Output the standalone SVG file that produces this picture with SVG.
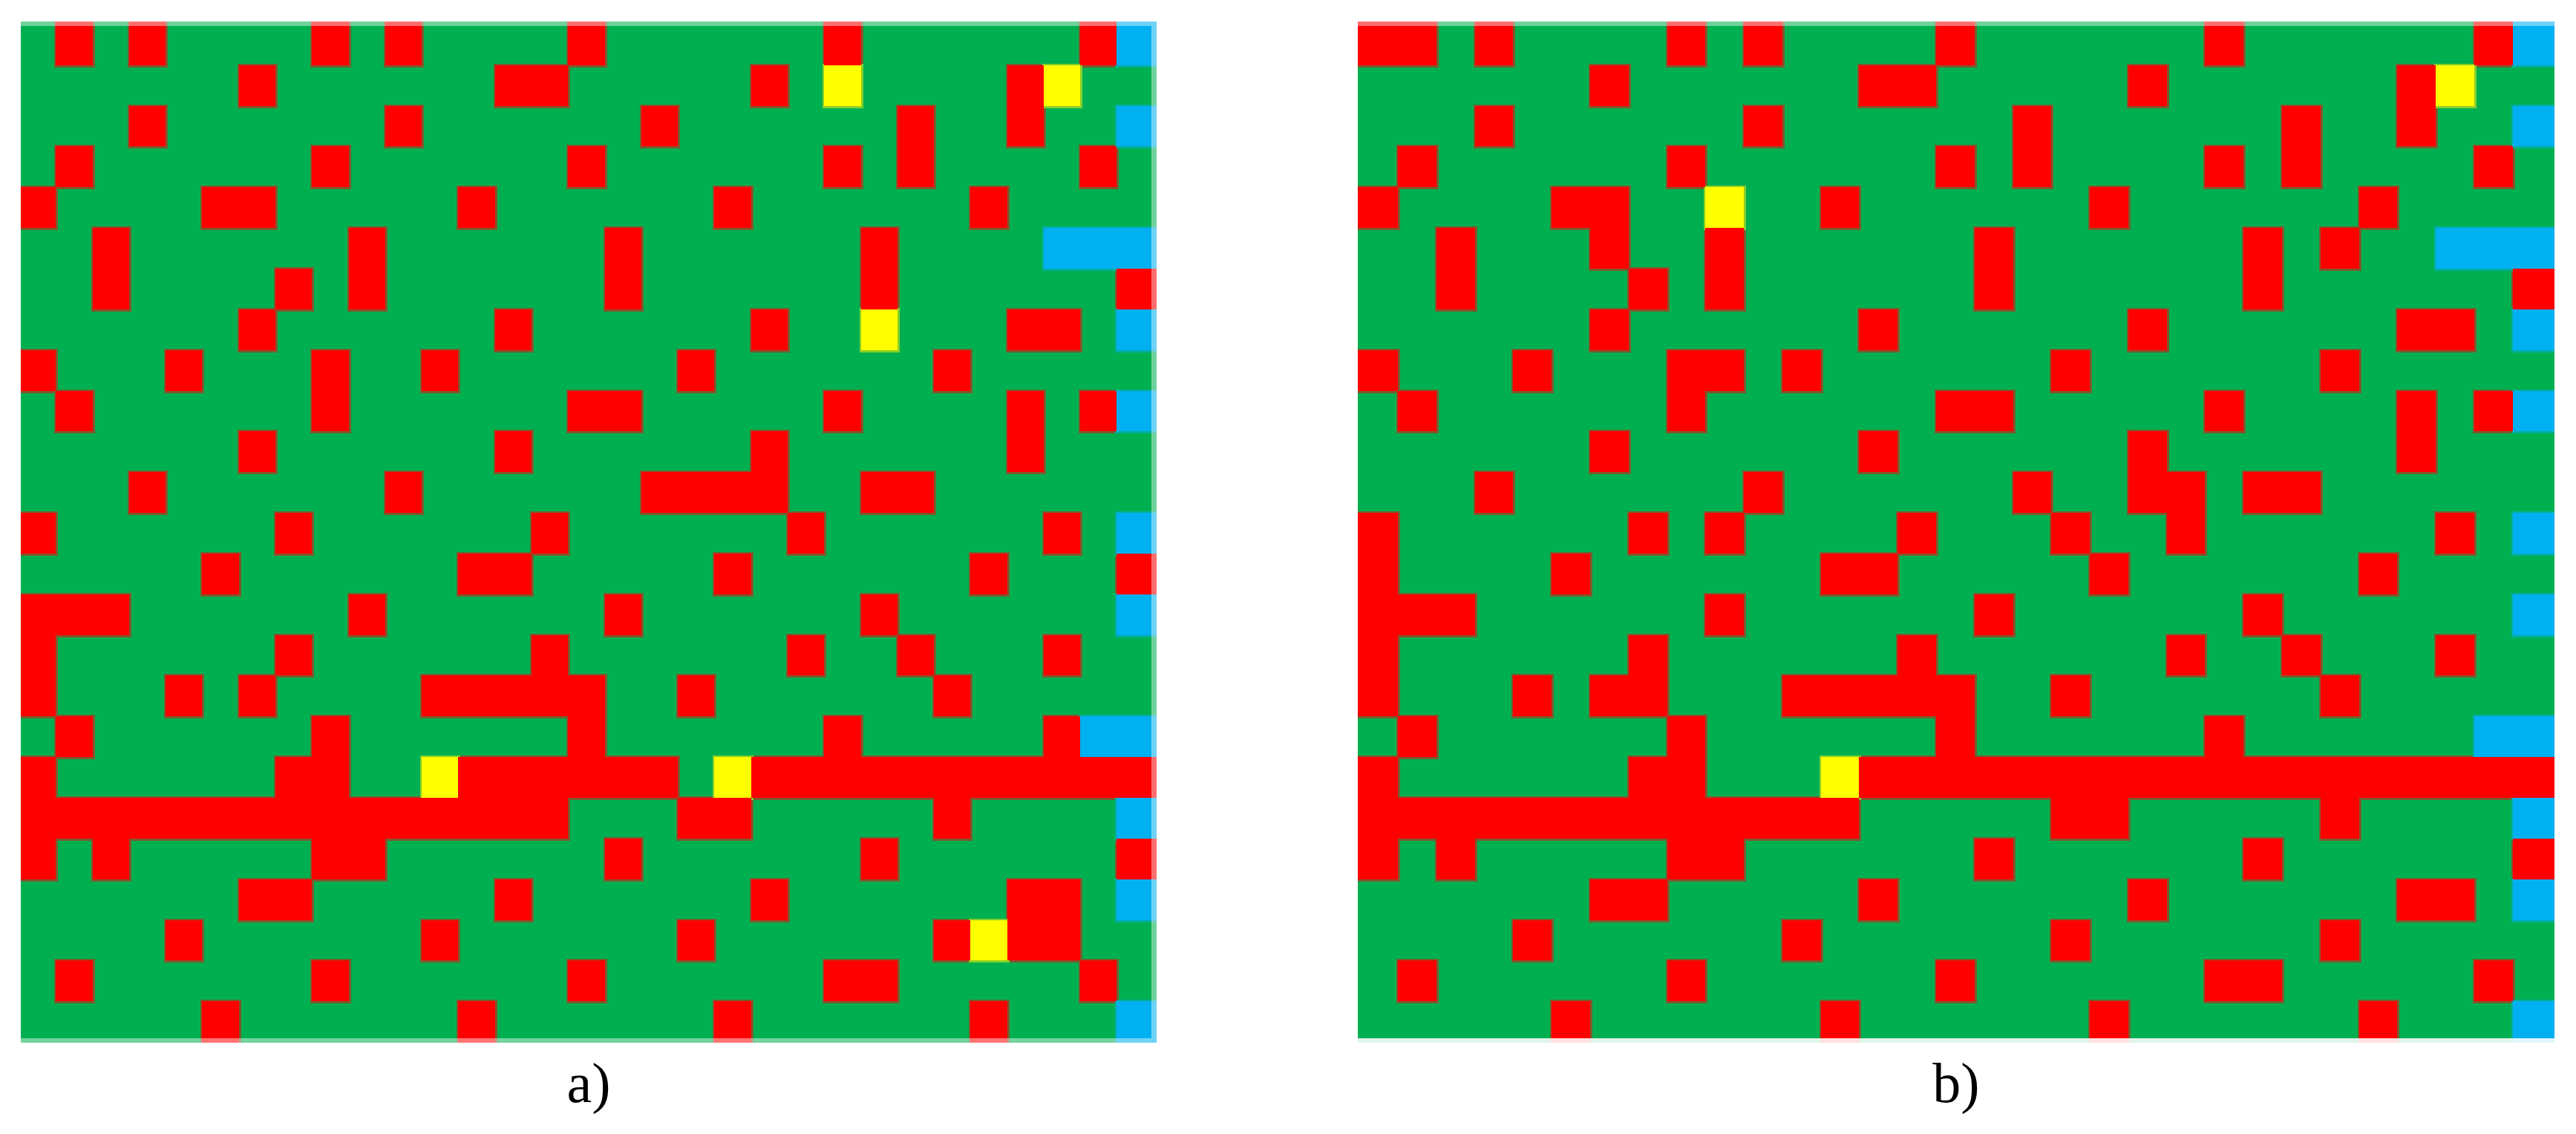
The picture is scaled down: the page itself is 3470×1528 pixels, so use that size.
<svg xmlns="http://www.w3.org/2000/svg" xmlns:xlink="http://www.w3.org/1999/xlink" width="3470" height="1528" viewBox="0 0 3470 1528">
<style>
.g{fill:#00b050}
.r{fill:#ff0000}
.y{fill:#ffff00}
.b{fill:#00b0f0}
.er{fill:none;stroke:#7b5a2e;stroke-width:5}
.ey{fill:none;stroke:#86cf2a;stroke-width:5}
.eb{fill:none;stroke:#00ae9e;stroke-width:5}
.hl{fill:#ffffff}
.lbl{font-family:"Liberation Serif","Times New Roman",serif;font-size:76px;fill:#000000;text-anchor:middle}
</style>
<defs>
<clipPath id="ca"><rect x="28" y="29" width="1530" height="1376"/></clipPath>
<clipPath id="cb"><rect x="1829" y="29" width="1612" height="1376"/></clipPath>
<g id="aR">
<rect x="75" y="29" width="50" height="59"/><rect x="174" y="29" width="49" height="59"/><rect x="420" y="29" width="50" height="59"/><rect x="519" y="29" width="49" height="59"/><rect x="765" y="29" width="50" height="59"/><rect x="1110" y="29" width="50" height="59"/><rect x="1455" y="29" width="49" height="59"/>
<rect x="322" y="88" width="49" height="55"/><rect x="667" y="88" width="98" height="55"/><rect x="1012" y="88" width="49" height="55"/><rect x="1357" y="88" width="49" height="55"/>
<rect x="174" y="143" width="49" height="54"/><rect x="519" y="143" width="49" height="54"/><rect x="864" y="143" width="49" height="54"/><rect x="1209" y="143" width="49" height="54"/><rect x="1357" y="143" width="49" height="54"/>
<rect x="75" y="197" width="50" height="55"/><rect x="420" y="197" width="50" height="55"/><rect x="765" y="197" width="50" height="55"/><rect x="1110" y="197" width="50" height="55"/><rect x="1209" y="197" width="49" height="55"/><rect x="1455" y="197" width="49" height="55"/>
<rect x="28" y="252" width="47" height="55"/><rect x="272" y="252" width="99" height="55"/><rect x="617" y="252" width="50" height="55"/><rect x="962" y="252" width="50" height="55"/><rect x="1307" y="252" width="50" height="55"/>
<rect x="125" y="307" width="49" height="55"/><rect x="470" y="307" width="49" height="55"/><rect x="815" y="307" width="49" height="55"/><rect x="1160" y="307" width="49" height="55"/>
<rect x="125" y="362" width="49" height="55"/><rect x="371" y="362" width="49" height="55"/><rect x="470" y="362" width="49" height="55"/><rect x="815" y="362" width="49" height="55"/><rect x="1160" y="362" width="49" height="55"/><rect x="1504" y="362" width="54" height="55"/>
<rect x="322" y="417" width="49" height="55"/><rect x="667" y="417" width="49" height="55"/><rect x="1012" y="417" width="49" height="55"/><rect x="1357" y="417" width="98" height="55"/>
<rect x="28" y="472" width="47" height="55"/><rect x="223" y="472" width="49" height="55"/><rect x="420" y="472" width="50" height="55"/><rect x="568" y="472" width="49" height="55"/><rect x="913" y="472" width="49" height="55"/><rect x="1258" y="472" width="49" height="55"/>
<rect x="75" y="527" width="50" height="54"/><rect x="420" y="527" width="50" height="54"/><rect x="765" y="527" width="99" height="54"/><rect x="1110" y="527" width="50" height="54"/><rect x="1357" y="527" width="49" height="54"/><rect x="1455" y="527" width="49" height="54"/>
<rect x="322" y="581" width="49" height="55"/><rect x="667" y="581" width="49" height="55"/><rect x="1012" y="581" width="49" height="55"/><rect x="1357" y="581" width="49" height="55"/>
<rect x="174" y="636" width="49" height="55"/><rect x="519" y="636" width="49" height="55"/><rect x="864" y="636" width="197" height="55"/><rect x="1160" y="636" width="98" height="55"/>
<rect x="28" y="691" width="47" height="55"/><rect x="371" y="691" width="49" height="55"/><rect x="716" y="691" width="49" height="55"/><rect x="1061" y="691" width="49" height="55"/><rect x="1406" y="691" width="49" height="55"/>
<rect x="272" y="746" width="50" height="55"/><rect x="617" y="746" width="99" height="55"/><rect x="962" y="746" width="50" height="55"/><rect x="1307" y="746" width="50" height="55"/><rect x="1504" y="746" width="54" height="55"/>
<rect x="28" y="801" width="146" height="55"/><rect x="470" y="801" width="49" height="55"/><rect x="815" y="801" width="49" height="55"/><rect x="1160" y="801" width="49" height="55"/>
<rect x="28" y="856" width="47" height="54"/><rect x="371" y="856" width="49" height="54"/><rect x="716" y="856" width="49" height="54"/><rect x="1061" y="856" width="49" height="54"/><rect x="1209" y="856" width="49" height="54"/><rect x="1406" y="856" width="49" height="54"/>
<rect x="28" y="910" width="47" height="55"/><rect x="223" y="910" width="49" height="55"/><rect x="322" y="910" width="49" height="55"/><rect x="568" y="910" width="247" height="55"/><rect x="913" y="910" width="49" height="55"/><rect x="1258" y="910" width="49" height="55"/>
<rect x="75" y="965" width="50" height="55"/><rect x="420" y="965" width="50" height="55"/><rect x="765" y="965" width="50" height="55"/><rect x="1110" y="965" width="50" height="55"/><rect x="1406" y="965" width="49" height="55"/>
<rect x="28" y="1020" width="47" height="55"/><rect x="371" y="1020" width="99" height="55"/><rect x="617" y="1020" width="296" height="55"/><rect x="1012" y="1020" width="546" height="55"/>
<rect x="28" y="1075" width="737" height="55"/><rect x="913" y="1075" width="99" height="55"/><rect x="1258" y="1075" width="49" height="55"/>
<rect x="28" y="1130" width="47" height="55"/><rect x="125" y="1130" width="49" height="55"/><rect x="420" y="1130" width="99" height="55"/><rect x="815" y="1130" width="49" height="55"/><rect x="1160" y="1130" width="49" height="55"/><rect x="1504" y="1130" width="54" height="55"/>
<rect x="322" y="1185" width="98" height="55"/><rect x="667" y="1185" width="49" height="55"/><rect x="1012" y="1185" width="49" height="55"/><rect x="1357" y="1185" width="98" height="55"/>
<rect x="223" y="1240" width="49" height="54"/><rect x="568" y="1240" width="49" height="54"/><rect x="913" y="1240" width="49" height="54"/><rect x="1258" y="1240" width="49" height="54"/><rect x="1357" y="1240" width="98" height="54"/>
<rect x="75" y="1294" width="50" height="55"/><rect x="420" y="1294" width="50" height="55"/><rect x="765" y="1294" width="50" height="55"/><rect x="1110" y="1294" width="99" height="55"/><rect x="1455" y="1294" width="49" height="55"/>
<rect x="272" y="1349" width="50" height="56"/><rect x="617" y="1349" width="50" height="56"/><rect x="962" y="1349" width="50" height="56"/><rect x="1307" y="1349" width="50" height="56"/>
</g>
<g id="aY">
<rect x="1110" y="88" width="50" height="55"/><rect x="1406" y="88" width="49" height="55"/><rect x="1160" y="417" width="49" height="55"/><rect x="568" y="1020" width="49" height="55"/><rect x="962" y="1020" width="50" height="55"/><rect x="1307" y="1240" width="50" height="54"/>
</g>
<g id="aB">
<rect x="1504" y="29" width="54" height="59"/><rect x="1504" y="143" width="54" height="54"/><rect x="1406" y="307" width="152" height="55"/><rect x="1504" y="417" width="54" height="55"/><rect x="1504" y="527" width="54" height="54"/><rect x="1504" y="691" width="54" height="55"/><rect x="1504" y="801" width="54" height="55"/><rect x="1455" y="965" width="103" height="55"/><rect x="1504" y="1075" width="54" height="55"/><rect x="1504" y="1185" width="54" height="55"/><rect x="1504" y="1349" width="54" height="56"/>
</g>
<g id="bR">
<rect x="1829" y="29" width="106" height="59"/><rect x="1987" y="29" width="51" height="59"/><rect x="2246" y="29" width="51" height="59"/><rect x="2349" y="29" width="52" height="59"/><rect x="2608" y="29" width="52" height="59"/><rect x="2970" y="29" width="52" height="59"/><rect x="3333" y="29" width="52" height="59"/>
<rect x="2142" y="88" width="52" height="55"/><rect x="2504" y="88" width="104" height="55"/><rect x="2867" y="88" width="52" height="55"/><rect x="3229" y="88" width="52" height="55"/>
<rect x="1987" y="143" width="51" height="54"/><rect x="2349" y="143" width="52" height="54"/><rect x="2712" y="143" width="51" height="54"/><rect x="3074" y="143" width="52" height="54"/><rect x="3229" y="143" width="52" height="54"/>
<rect x="1883" y="197" width="52" height="55"/><rect x="2246" y="197" width="51" height="55"/><rect x="2608" y="197" width="52" height="55"/><rect x="2712" y="197" width="51" height="55"/><rect x="2970" y="197" width="52" height="55"/><rect x="3074" y="197" width="52" height="55"/><rect x="3333" y="197" width="52" height="55"/>
<rect x="1829" y="252" width="54" height="55"/><rect x="2090" y="252" width="104" height="55"/><rect x="2453" y="252" width="51" height="55"/><rect x="2815" y="252" width="52" height="55"/><rect x="3178" y="252" width="51" height="55"/>
<rect x="1935" y="307" width="52" height="55"/><rect x="2142" y="307" width="52" height="55"/><rect x="2297" y="307" width="52" height="55"/><rect x="2660" y="307" width="52" height="55"/><rect x="3022" y="307" width="52" height="55"/><rect x="3126" y="307" width="52" height="55"/>
<rect x="1935" y="362" width="52" height="55"/><rect x="2194" y="362" width="52" height="55"/><rect x="2297" y="362" width="52" height="55"/><rect x="2660" y="362" width="52" height="55"/><rect x="3022" y="362" width="52" height="55"/><rect x="3385" y="362" width="56" height="55"/>
<rect x="2142" y="417" width="52" height="55"/><rect x="2504" y="417" width="52" height="55"/><rect x="2867" y="417" width="52" height="55"/><rect x="3229" y="417" width="104" height="55"/>
<rect x="1829" y="472" width="54" height="55"/><rect x="2038" y="472" width="52" height="55"/><rect x="2246" y="472" width="103" height="55"/><rect x="2401" y="472" width="52" height="55"/><rect x="2763" y="472" width="52" height="55"/><rect x="3126" y="472" width="52" height="55"/>
<rect x="1883" y="527" width="52" height="54"/><rect x="2246" y="527" width="51" height="54"/><rect x="2608" y="527" width="104" height="54"/><rect x="2970" y="527" width="52" height="54"/><rect x="3229" y="527" width="52" height="54"/><rect x="3333" y="527" width="52" height="54"/>
<rect x="2142" y="581" width="52" height="55"/><rect x="2504" y="581" width="52" height="55"/><rect x="2867" y="581" width="52" height="55"/><rect x="3229" y="581" width="52" height="55"/>
<rect x="1987" y="636" width="51" height="55"/><rect x="2349" y="636" width="52" height="55"/><rect x="2712" y="636" width="51" height="55"/><rect x="2867" y="636" width="103" height="55"/><rect x="3022" y="636" width="104" height="55"/>
<rect x="1829" y="691" width="54" height="55"/><rect x="2194" y="691" width="52" height="55"/><rect x="2297" y="691" width="52" height="55"/><rect x="2556" y="691" width="52" height="55"/><rect x="2763" y="691" width="52" height="55"/><rect x="2919" y="691" width="51" height="55"/><rect x="3281" y="691" width="52" height="55"/>
<rect x="1829" y="746" width="54" height="55"/><rect x="2090" y="746" width="52" height="55"/><rect x="2453" y="746" width="103" height="55"/><rect x="2815" y="746" width="52" height="55"/><rect x="3178" y="746" width="51" height="55"/>
<rect x="1829" y="801" width="158" height="55"/><rect x="2297" y="801" width="52" height="55"/><rect x="2660" y="801" width="52" height="55"/><rect x="3022" y="801" width="52" height="55"/>
<rect x="1829" y="856" width="54" height="54"/><rect x="2194" y="856" width="52" height="54"/><rect x="2556" y="856" width="52" height="54"/><rect x="2919" y="856" width="51" height="54"/><rect x="3074" y="856" width="52" height="54"/><rect x="3281" y="856" width="52" height="54"/>
<rect x="1829" y="910" width="54" height="55"/><rect x="2038" y="910" width="52" height="55"/><rect x="2142" y="910" width="104" height="55"/><rect x="2401" y="910" width="259" height="55"/><rect x="2763" y="910" width="52" height="55"/><rect x="3126" y="910" width="52" height="55"/>
<rect x="1883" y="965" width="52" height="55"/><rect x="2246" y="965" width="51" height="55"/><rect x="2608" y="965" width="52" height="55"/><rect x="2970" y="965" width="52" height="55"/>
<rect x="1829" y="1020" width="54" height="55"/><rect x="2194" y="1020" width="103" height="55"/><rect x="2504" y="1020" width="937" height="55"/>
<rect x="1829" y="1075" width="675" height="55"/><rect x="2763" y="1075" width="104" height="55"/><rect x="3126" y="1075" width="52" height="55"/>
<rect x="1829" y="1130" width="54" height="55"/><rect x="1935" y="1130" width="52" height="55"/><rect x="2246" y="1130" width="103" height="55"/><rect x="2660" y="1130" width="52" height="55"/><rect x="3022" y="1130" width="52" height="55"/><rect x="3385" y="1130" width="56" height="55"/>
<rect x="2142" y="1185" width="104" height="55"/><rect x="2504" y="1185" width="52" height="55"/><rect x="2867" y="1185" width="52" height="55"/><rect x="3229" y="1185" width="104" height="55"/>
<rect x="2038" y="1240" width="52" height="54"/><rect x="2401" y="1240" width="52" height="54"/><rect x="2763" y="1240" width="52" height="54"/><rect x="3126" y="1240" width="52" height="54"/>
<rect x="1883" y="1294" width="52" height="55"/><rect x="2246" y="1294" width="51" height="55"/><rect x="2608" y="1294" width="52" height="55"/><rect x="2970" y="1294" width="104" height="55"/><rect x="3333" y="1294" width="52" height="55"/>
<rect x="2090" y="1349" width="52" height="56"/><rect x="2453" y="1349" width="51" height="56"/><rect x="2815" y="1349" width="52" height="56"/><rect x="3178" y="1349" width="51" height="56"/>
</g>
<g id="bY">
<rect x="3281" y="88" width="52" height="55"/><rect x="2297" y="252" width="52" height="55"/><rect x="2453" y="1020" width="51" height="55"/>
</g>
<g id="bB">
<rect x="3385" y="29" width="56" height="59"/><rect x="3385" y="143" width="56" height="54"/><rect x="3281" y="307" width="160" height="55"/><rect x="3385" y="417" width="56" height="55"/><rect x="3385" y="527" width="56" height="54"/><rect x="3385" y="691" width="56" height="55"/><rect x="3385" y="801" width="56" height="55"/><rect x="3333" y="965" width="108" height="55"/><rect x="3385" y="1075" width="56" height="55"/><rect x="3385" y="1185" width="56" height="55"/><rect x="3385" y="1349" width="56" height="56"/>
</g>
</defs>
<rect x="0" y="0" width="3470" height="1528" fill="#ffffff"/>
<g id="panel-a" clip-path="url(#ca)" shape-rendering="crispEdges">
<rect class="g" x="28" y="29" width="1530" height="1376"/>
<use href="#aR" class="er"/><use href="#aY" class="ey"/><use href="#aB" class="eb"/>
<use href="#aR" class="r"/><use href="#aY" class="y"/><use href="#aB" class="b"/>
<rect class="hl" x="28" y="29" width="1530" height="6" opacity="0.43"/>
<rect class="hl" x="1551" y="35" width="7" height="1370" opacity="0.43"/>
<rect class="hl" x="28" y="1399" width="1523" height="6" opacity="0.45"/>
</g>
<g id="panel-b" clip-path="url(#cb)" shape-rendering="crispEdges">
<rect class="g" x="1829" y="29" width="1612" height="1376"/>
<use href="#bR" class="er"/><use href="#bY" class="ey"/><use href="#bB" class="eb"/>
<use href="#bR" class="r"/><use href="#bY" class="y"/><use href="#bB" class="b"/>
<rect class="hl" x="1829" y="29" width="1612" height="6" opacity="0.43"/>
<rect class="hl" x="1829" y="1399" width="1612" height="6" opacity="0.88"/>
</g>
<g id="labels">
<text class="lbl" x="793" y="1485">a)</text>
<text class="lbl" x="2635" y="1485">b)</text>
</g>
</svg>
